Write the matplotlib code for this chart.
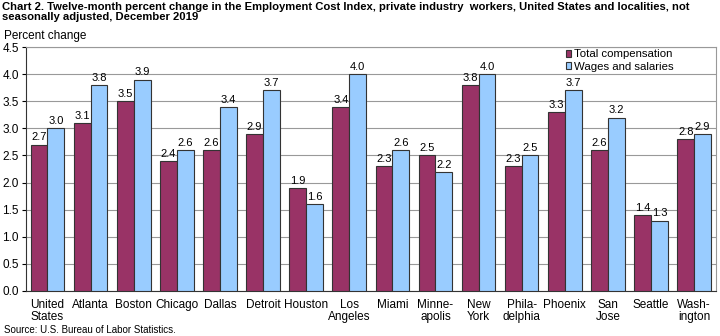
import numpy as np
import matplotlib.pyplot as plt

plt.rcParams['font.family'] = ['Liberation Sans', 'DejaVu Sans']

cities = ['United\nStates', 'Atlanta', 'Boston', 'Chicago', 'Dallas', 'Detroit',
          'Houston', 'Los\nAngeles', 'Miami', 'Minne-\napolis', 'New\nYork',
          'Phila-\ndelphia', 'Phoenix', 'San\nJose', 'Seattle', 'Wash-\nington']
total_comp = [2.7, 3.1, 3.5, 2.4, 2.6, 2.9, 1.9, 3.4, 2.3, 2.5, 3.8, 2.3, 3.3, 2.6, 1.4, 2.8]
wages = [3.0, 3.8, 3.9, 2.6, 3.4, 3.7, 1.6, 4.0, 2.6, 2.2, 4.0, 2.5, 3.7, 3.2, 1.3, 2.9]

fig = plt.figure(figsize=(7.2, 3.36), dpi=100)
ax = fig.add_axes([0.036, 0.134, 0.958, 0.726])

x = np.arange(len(cities))
w = 0.39
b1 = ax.bar(x - w / 2, total_comp, w, color='#993366', edgecolor='#333333', linewidth=0.8,
            label='Total compensation', zorder=3)
b2 = ax.bar(x + w / 2, wages, w, color='#99CCFF', edgecolor='#333333', linewidth=0.8,
            label='Wages and salaries', zorder=3)

for bars in (b1, b2):
    for r in bars:
        ax.text(r.get_x() + r.get_width() / 2, r.get_height() + 0.04, f'{r.get_height():.1f}',
                ha='center', va='bottom', fontsize=8)

ax.set_xlim(-0.5, len(cities) - 0.5)
ax.set_ylim(0, 4.5)
ax.set_yticks(np.arange(0, 4.51, 0.5))
ax.set_yticklabels([f'{v:.1f}' for v in np.arange(0, 4.51, 0.5)], fontsize=8.5)
ax.set_xticks(x)
ax.set_xticklabels(cities, fontsize=8.5, va='top', linespacing=1.0)
ax.tick_params(axis='x', length=0, pad=6)
ax.tick_params(axis='y', length=3, pad=2)
ax.yaxis.grid(True, color='#999999', linewidth=0.8, zorder=0)
for s in ['top', 'right']:
    ax.spines[s].set_color('#999999')
for s in ['left', 'bottom']:
    ax.spines[s].set_color('#333333')

ax.legend(loc='upper left', bbox_to_anchor=(0.781, 0.995), fontsize=8.2, frameon=False,
          handlelength=0.5, handleheight=0.5, handletextpad=0.2, borderaxespad=0.0,
          labelspacing=0.2, borderpad=0.1)

fig.text(0.003, 0.995, 'Chart 2. Twelve-month percent change in the Employment Cost Index, private industry  workers, United States and localities, not\nseasonally adjusted, December 2019',
         fontsize=8.1, fontweight='bold', va='top', ha='left', linespacing=1.1)
fig.text(0.006, 0.875, 'Percent change', fontsize=8.5, va='bottom', ha='left')
fig.text(0.006, 0.003, 'Source: U.S. Bureau of Labor Statistics.', fontsize=7, va='bottom', ha='left')

fig.savefig('out.png', dpi=100)
